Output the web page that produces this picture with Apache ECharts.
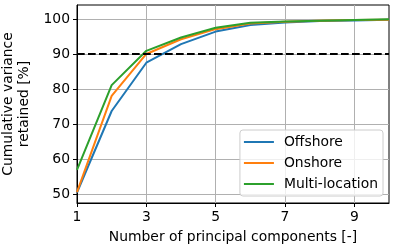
<!DOCTYPE html>
<html><head><meta charset="utf-8">
<script src="https://cdn.jsdelivr.net/npm/echarts@6/dist/echarts.min.js"></script>
<style>html,body{margin:0;padding:0;background:#fff}#c{width:396px;height:250px}</style>
</head><body><div id="c"></div>
<script>
const components = [1,2,3,4,5,6,7,8,9,10];
const offshore = [50.4,73.7,87.5,92.8,96.4,98.3,99.0,99.4,99.6,99.8];
const onshore = [50.5,78.0,90.0,94.2,97.1,98.7,99.2,99.5,99.7,99.8];
const multiLocation = [56.9,81.1,90.9,94.7,97.5,98.9,99.3,99.5,99.7,99.9];
const xTicks = [1,3,5,7,9];
const yTicks = [50,60,70,80,90,100];
const threshold = 90;

const font = 'DejaVu Sans';
const fs = 13.9;
const mk = (name, vals, color) => ({
  name, type:'line', symbol:'none', showSymbol:false, data: components.map((c,i)=>[c, vals[i]]),
  lineStyle:{color, width:2}, itemStyle:{color}, z:3
});
const series = [
  mk('Offshore', offshore, '#1f77b4'),
  mk('Onshore', onshore, '#ff7f0e'),
  mk('Multi-location', multiLocation, '#2ca02c')
];
series.push({type:'line', data:[], symbol:'none', silent:true, markLine:{silent:true, symbol:'none', label:{show:false},
  lineStyle:{color:'#000', width:2, type:[7.7,3.3]}, data:[{yAxis:threshold}]}});
const chart = echarts.init(document.getElementById('c'), null, {renderer:'canvas'});
chart.setOption({
  animation:false,
  textStyle:{fontFamily:font},
  grid:{left:77, right:7, top:5, bottom:47, containLabel:false, outerBoundsMode:'none', show:true, borderColor:'#000', borderWidth:1, backgroundColor:'transparent'},
  xAxis:{type:'value', min:1, max:10, interval:2,
    name:'Number of principal components [-]', nameLocation:'middle', nameGap:27,
    nameTextStyle:{fontSize:fs, color:'#000', fontFamily:font},
    axisLine:{show:true, lineStyle:{color:'#000'}},
    axisTick:{show:true, length:4, lineStyle:{color:'#000'}, customValues:xTicks},
    axisLabel:{fontSize:fs, color:'#000', margin:7, fontFamily:font, customValues:xTicks},
    splitLine:{show:true, lineStyle:{color:'#b0b0b0', width:1}}},
  yAxis:{type:'value', min:47.4, max:104, interval:10,
    name:'Cumulative variance\nretained [%]', nameLocation:'middle', nameRotate:90, nameGap:36,
    nameTextStyle:{fontSize:fs, color:'#000', fontFamily:font, lineHeight:16},
    axisLine:{show:true, lineStyle:{color:'#000'}},
    axisTick:{show:true, length:4, lineStyle:{color:'#000'}, customValues:yTicks},
    axisLabel:{fontSize:fs, color:'#000', margin:7, fontFamily:font, customValues:yTicks},
    splitLine:{show:true, lineStyle:{color:'#b0b0b0', width:1}}},
  legend:{orient:'vertical', right:13, top:130, icon:'rect', itemWidth:30, itemHeight:2, itemGap:7,
    padding:[5,5,5,4], borderColor:'#ccc', borderWidth:1, borderRadius:3, backgroundColor:'rgba(255,255,255,0.8)',
    textStyle:{fontSize:fs, color:'#000', fontFamily:font, padding:[0,0,0,5], lineHeight:14},
    data:['Offshore','Onshore','Multi-location']},
  series
});
</script></body></html>
